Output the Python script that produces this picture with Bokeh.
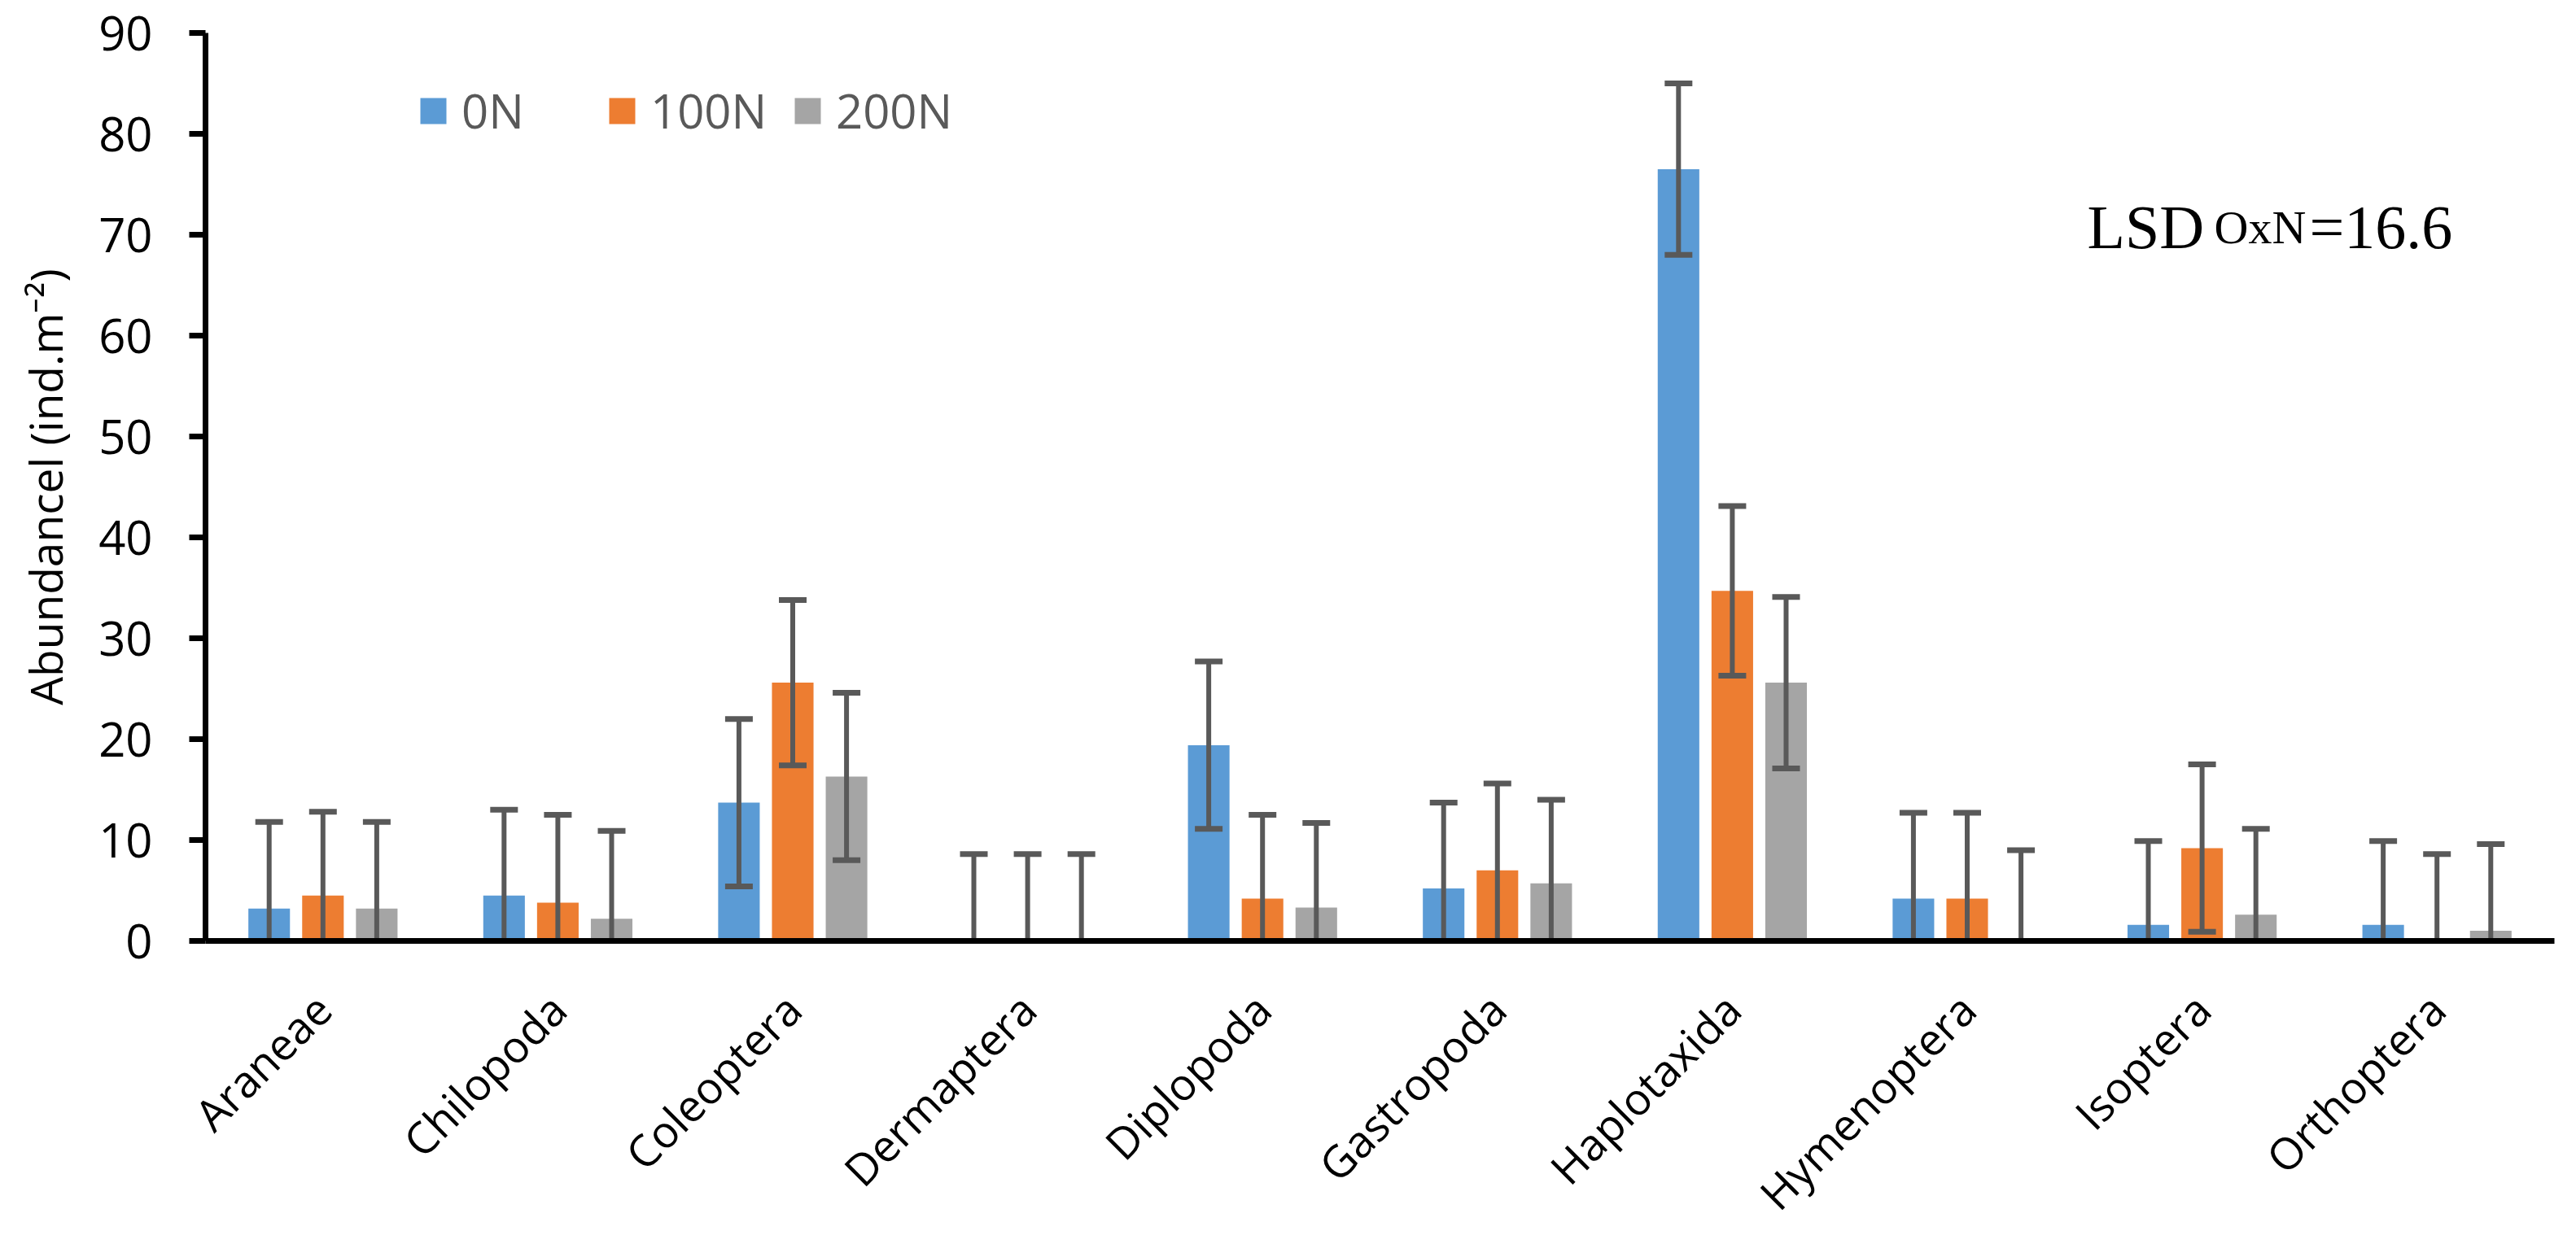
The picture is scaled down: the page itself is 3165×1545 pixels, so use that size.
import math
from bokeh.plotting import figure
from bokeh.models import (ColumnDataSource, FactorRange, Range1d, SingleIntervalTicker,
                          Legend, LegendItem, Label)
from bokeh.transform import dodge
from bokeh.embed import file_html
from bokeh.resources import INLINE

# ---------------- data ----------------
categories = ["Araneae", "Chilopoda", "Coleoptera", "Dermaptera", "Diplopoda",
              "Gastropoda", "Haplotaxida", "Hymenoptera", "Isoptera", "Orthoptera"]
series_names = ["0N", "100N", "200N"]
values_0N = [3.2, 4.5, 13.7, 0.0, 19.4, 5.2, 76.5, 4.2, 1.6, 1.6]
values_100N = [4.5, 3.8, 25.6, 0.0, 4.2, 7.0, 34.7, 4.2, 9.2, 0.0]
values_200N = [3.2, 2.2, 16.3, 0.0, 3.3, 5.7, 25.6, 0.0, 2.6, 1.0]
err_0N = [8.6, 8.5, 8.3, 8.6, 8.3, 8.5, 8.5, 8.5, 8.3, 8.3]
err_100N = [8.3, 8.7, 8.2, 8.6, 8.3, 8.6, 8.4, 8.5, 8.3, 8.6]
err_200N = [8.6, 8.7, 8.3, 8.6, 8.4, 8.3, 8.5, 9.0, 8.5, 8.6]
y_ticks_interval = 10
lsd_main = "LSD"
lsd_sub = "OxN"
lsd_value = "=16.6"
y_label = "Abundancel (ind.m\u207b\u00b2)"

# ---------------- styling ----------------
colors = ["#5B9BD5", "#ED7D31", "#A5A5A5"]
offsets = [-0.229, 0.0, 0.229]
bar_w = 0.177
err_color = "#595959"
FONT = "Open Sans"

p = figure(frame_width=2886, frame_height=1116,
           x_range=FactorRange(factors=categories, range_padding=0, factor_padding=0),
           y_range=Range1d(0, 90),
           output_backend="svg", toolbar_location=None,
           min_border_left=252, min_border_right=11,
           min_border_top=40, min_border_bottom=373)
p.background_fill_color = "white"
p.border_fill_color = "white"
p.outline_line_color = None
p.xgrid.grid_line_color = None
p.ygrid.grid_line_color = None

series_vals = [values_0N, values_100N, values_200N]
series_errs = [err_0N, err_100N, err_200N]
bar_renderers = []
for name, vals, errs, col, off in zip(series_names, series_vals, series_errs, colors, offsets):
    src = ColumnDataSource(dict(
        cat=categories,
        top=vals,
        upper=[v + e for v, e in zip(vals, errs)],
        lower=[v - e for v, e in zip(vals, errs)],
    ))
    xd = dodge("cat", off, range=p.x_range)
    r = p.vbar(x=xd, top="top", bottom=0, width=bar_w, source=src,
               fill_color=col, line_color=None)
    bar_renderers.append(r)
    p.segment(x0=xd, y0="lower", x1=xd, y1="upper", source=src,
              line_color=err_color, line_width=6)
    p.rect(x=xd, y="upper", width=34, height=7, width_units="screen",
           height_units="screen", source=src, fill_color=err_color, line_color=None)
    p.rect(x=xd, y="lower", width=34, height=7, width_units="screen",
           height_units="screen", source=src, fill_color=err_color, line_color=None)

# ---------------- axes ----------------
p.yaxis.ticker = SingleIntervalTicker(interval=y_ticks_interval)
p.yaxis.minor_tick_line_color = None
p.yaxis.major_tick_in = 0
p.yaxis.major_tick_out = 20
p.yaxis.major_tick_line_width = 7
p.yaxis.major_tick_line_color = "black"
p.yaxis.axis_line_width = 7
p.yaxis.axis_line_color = "black"
p.yaxis.major_label_text_font = FONT
p.yaxis.major_label_text_font_size = "58px"
p.yaxis.major_label_text_color = "black"
p.yaxis.major_label_standoff = 45
p.yaxis.axis_label = y_label
p.yaxis.axis_label_text_font = FONT
p.yaxis.axis_label_text_font_size = "55px"
p.yaxis.axis_label_text_font_style = "normal"
p.yaxis.axis_label_text_color = "black"
p.yaxis.axis_label_standoff = 25

p.xaxis.axis_line_width = 7
p.xaxis.axis_line_color = "black"
p.xaxis.major_tick_line_color = None
p.xaxis.minor_tick_line_color = None
p.xaxis.major_tick_out = 0
p.xaxis.major_label_orientation = math.pi / 4
p.xaxis.major_label_text_font = FONT
p.xaxis.major_label_text_font_size = "54px"
p.xaxis.major_label_text_color = "black"
p.xaxis.major_label_standoff = 74

# ---------------- legend ----------------
legend_x = [260, 492, 720]
for name, r, lx in zip(series_names, bar_renderers, legend_x):
    lg = Legend(items=[LegendItem(label=name, renderers=[r])],
                location=(lx, 981), orientation="horizontal",
                padding=0, margin=0, spacing=0,
                border_line_color=None, background_fill_alpha=0,
                glyph_width=40, glyph_height=40, label_height=40,
                label_standoff=15,
                label_text_font=FONT, label_text_font_size="58px",
                label_text_color="#595959")
    p.add_layout(lg)

# ---------------- LSD annotation ----------------
for txt, x, size in [(lsd_main, 8.011, "76px"), (lsd_sub, 8.552, "58px"), (lsd_value, 8.957, "76px")]:
    p.add_layout(Label(x=x, y=70.73, x_units="data", y_units="data", text=txt,
                       text_font="Liberation Serif", text_font_size=size,
                       text_baseline="alphabetic", text_align="left", text_color="black"))

open("out.html", "w").write(file_html(p, INLINE))
